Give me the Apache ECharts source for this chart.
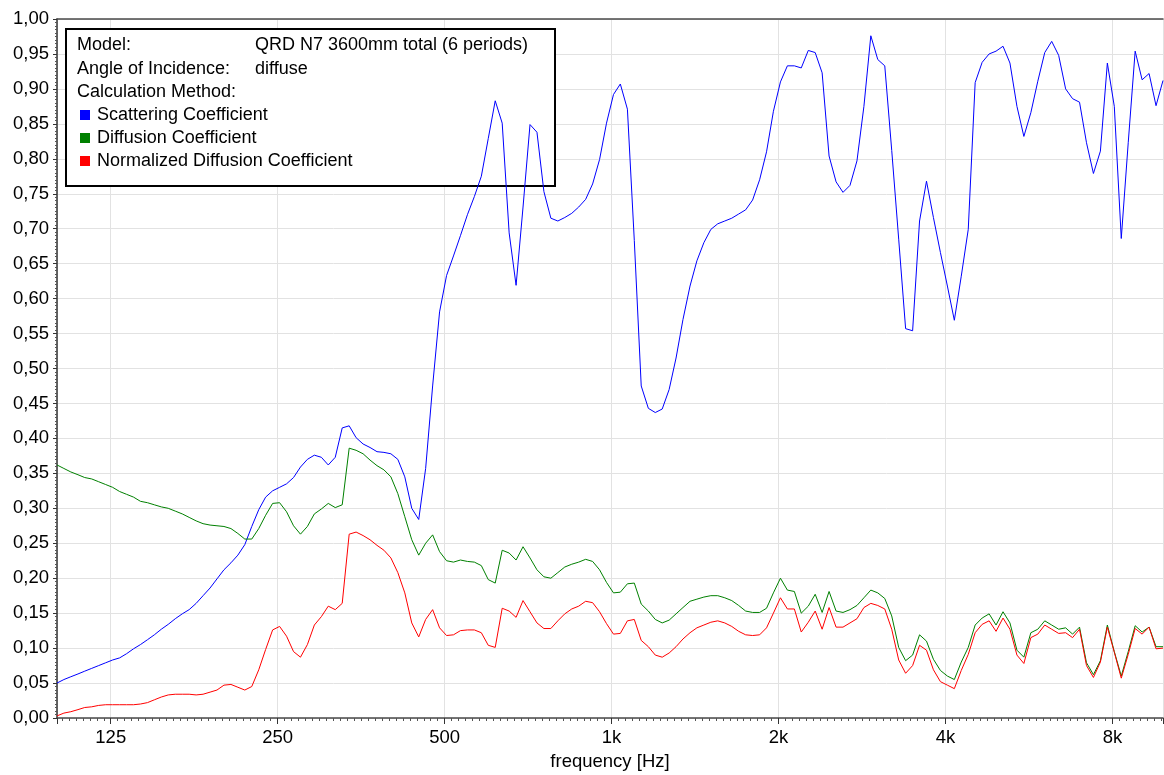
<!DOCTYPE html>
<html>
<head>
<meta charset="utf-8">
<title>QRD N7 scattering and diffusion</title>
<script src="https://cdn.jsdelivr.net/npm/echarts@6/dist/echarts.min.js"></script>
<style>
  html, body { margin: 0; padding: 0; background: #fff; }
  #chart { width: 1164px; height: 775px; }
</style>
</head>
<body>
<div id="chart"></div>
<script>
// 1/24-octave frequency bands, 100 Hz .. 9.87 kHz
const frequencies = [
  100, 102.9, 105.9, 109.1, 112.2, 115.5, 118.9, 122.4, 126.0, 129.7, 133.5, 137.4,
  141.4, 145.6, 149.8, 154.2, 158.7, 163.4, 168.2, 173.1, 178.2, 183.4, 188.8, 194.3,
  200, 205.9, 211.9, 218.1, 224.5, 231.1, 237.8, 244.8, 252.0, 259.4, 267.0, 274.8,
  282.8, 291.1, 299.7, 308.4, 317.5, 326.8, 336.4, 346.2, 356.4, 366.8, 377.6, 388.6,
  400, 411.7, 423.8, 436.2, 449.0, 462.1, 475.7, 489.6, 504.0, 518.7, 533.9, 549.6,
  565.7, 582.3, 599.3, 616.9, 635.0, 653.6, 672.7, 692.4, 712.7, 733.6, 755.1, 777.2,
  800, 823.4, 847.6, 872.4, 898.0, 924.3, 951.4, 979.2, 1008, 1037, 1068, 1099,
  1131, 1165, 1199, 1234, 1270, 1307, 1345, 1385, 1425, 1467, 1510, 1554,
  1600, 1647, 1695, 1745, 1796, 1849, 1903, 1958, 2016, 2075, 2136, 2198,
  2263, 2329, 2397, 2467, 2540, 2614, 2691, 2770, 2851, 2934, 3020, 3109,
  3200, 3294, 3390, 3490, 3592, 3697, 3805, 3917, 4032, 4150, 4271, 4397,
  4525, 4658, 4795, 4935, 5080, 5228, 5382, 5539, 5702, 5869, 6041, 6218,
  6400, 6588, 6781, 6979, 7184, 7394, 7611, 7834, 8063, 8300, 8543, 8793,
  9051, 9316, 9589, 9870
];

const scattering = [
  0.050, 0.055, 0.059, 0.063, 0.067, 0.071, 0.075, 0.079, 0.083, 0.086,
  0.092, 0.099, 0.105, 0.112, 0.119, 0.127, 0.134, 0.142, 0.149, 0.155,
  0.164, 0.175, 0.186, 0.199, 0.212, 0.222, 0.233, 0.248, 0.274, 0.298,
  0.316, 0.325, 0.330, 0.335, 0.344, 0.359, 0.370, 0.376, 0.373, 0.362,
  0.373, 0.415, 0.418, 0.401, 0.392, 0.387, 0.381, 0.380, 0.378, 0.370,
  0.345, 0.300, 0.284, 0.357, 0.475, 0.581, 0.633, 0.661, 0.690, 0.720,
  0.746, 0.775, 0.829, 0.883, 0.851, 0.694, 0.619, 0.731, 0.849, 0.838,
  0.753, 0.715, 0.711, 0.716, 0.722, 0.731, 0.742, 0.764, 0.799, 0.851,
  0.892, 0.907, 0.871, 0.683, 0.475, 0.443, 0.437, 0.442, 0.470, 0.515,
  0.570, 0.618, 0.654, 0.680, 0.699, 0.707, 0.711, 0.715, 0.721, 0.727,
  0.741, 0.770, 0.810, 0.868, 0.910, 0.933, 0.933, 0.930, 0.955, 0.952,
  0.923, 0.804, 0.767, 0.752, 0.762, 0.797, 0.875, 0.976, 0.942, 0.933,
  0.812, 0.685, 0.557, 0.554, 0.711, 0.768, 0.716, 0.666, 0.618, 0.569,
  0.632, 0.699, 0.909, 0.938, 0.950, 0.954, 0.961, 0.937, 0.875, 0.832,
  0.866, 0.911, 0.952, 0.968, 0.948, 0.900, 0.886, 0.881, 0.823, 0.779,
  0.811, 0.937, 0.875, 0.686, 0.823, 0.954, 0.913, 0.922, 0.876, 0.912
];

const diffusion = [
  0.362, 0.357, 0.352, 0.348, 0.344, 0.342, 0.338, 0.334, 0.330, 0.324,
  0.320, 0.316, 0.310, 0.308, 0.305, 0.302, 0.300, 0.296, 0.292, 0.287,
  0.282, 0.278, 0.276, 0.275, 0.274, 0.271, 0.264, 0.256, 0.256, 0.271,
  0.290, 0.307, 0.308, 0.295, 0.275, 0.263, 0.274, 0.292, 0.299, 0.307,
  0.301, 0.305, 0.386, 0.383, 0.378, 0.369, 0.361, 0.355, 0.345, 0.321,
  0.288, 0.255, 0.233, 0.250, 0.262, 0.238, 0.225, 0.223, 0.226, 0.224,
  0.223, 0.218, 0.198, 0.193, 0.240, 0.236, 0.226, 0.245, 0.229, 0.212,
  0.202, 0.200, 0.208, 0.216, 0.220, 0.223, 0.227, 0.224, 0.212, 0.194,
  0.179, 0.180, 0.192, 0.193, 0.163, 0.153, 0.141, 0.136, 0.140, 0.149,
  0.158, 0.167, 0.170, 0.173, 0.175, 0.175, 0.172, 0.168, 0.161, 0.153,
  0.151, 0.151, 0.157, 0.179, 0.200, 0.183, 0.181, 0.150, 0.160, 0.177,
  0.151, 0.181, 0.153, 0.151, 0.155, 0.161, 0.172, 0.183, 0.179, 0.171,
  0.146, 0.101, 0.082, 0.090, 0.119, 0.110, 0.084, 0.068, 0.060, 0.055,
  0.080, 0.101, 0.133, 0.143, 0.149, 0.133, 0.152, 0.136, 0.097, 0.087,
  0.122, 0.127, 0.139, 0.133, 0.127, 0.129, 0.120, 0.130, 0.079, 0.062,
  0.082, 0.133, 0.095, 0.060, 0.095, 0.132, 0.123, 0.130, 0.102, 0.102
];

const normalizedDiffusion = [
  0.003, 0.007, 0.009, 0.012, 0.015, 0.016, 0.018, 0.019, 0.019, 0.019,
  0.019, 0.019, 0.020, 0.022, 0.026, 0.030, 0.033, 0.034, 0.034, 0.034,
  0.033, 0.034, 0.037, 0.040, 0.047, 0.048, 0.044, 0.040, 0.045, 0.069,
  0.098, 0.126, 0.131, 0.117, 0.095, 0.087, 0.105, 0.133, 0.145, 0.160,
  0.155, 0.164, 0.263, 0.266, 0.261, 0.255, 0.247, 0.240, 0.229, 0.208,
  0.179, 0.136, 0.116, 0.141, 0.155, 0.129, 0.118, 0.119, 0.125, 0.126,
  0.126, 0.122, 0.104, 0.101, 0.157, 0.153, 0.144, 0.168, 0.152, 0.136,
  0.128, 0.128, 0.139, 0.149, 0.156, 0.160, 0.167, 0.165, 0.152, 0.135,
  0.120, 0.121, 0.139, 0.141, 0.111, 0.102, 0.090, 0.087, 0.093, 0.102,
  0.113, 0.122, 0.129, 0.133, 0.137, 0.139, 0.136, 0.131, 0.124, 0.119,
  0.118, 0.119, 0.129, 0.150, 0.172, 0.156, 0.156, 0.123, 0.137, 0.153,
  0.127, 0.158, 0.130, 0.130, 0.136, 0.142, 0.158, 0.164, 0.161, 0.156,
  0.127, 0.083, 0.064, 0.075, 0.104, 0.097, 0.069, 0.052, 0.047, 0.042,
  0.068, 0.091, 0.122, 0.134, 0.139, 0.124, 0.143, 0.127, 0.090, 0.078,
  0.115, 0.120, 0.133, 0.127, 0.121, 0.122, 0.115, 0.127, 0.075, 0.058,
  0.080, 0.130, 0.094, 0.057, 0.091, 0.128, 0.120, 0.130, 0.099, 0.100
];

// octave tick labels, starting at 125 Hz
const xTickLabels = ['125', '250', '500', '1k', '2k', '4k', '8k'];
const seriesNames = ['Scattering Coefficient', 'Diffusion Coefficient', 'Normalized Diffusion Coefficient'];
const seriesColors = ['#0000ff', '#008000', '#ff0000'];
const infoLabels = ['Model:', 'Angle of Incidence:', 'Calculation Method:'];
const infoValues = ['QRD N7 3600mm total (6 periods)', 'diffuse', ''];

const REF_FREQ = 125;            // frequency at octave 0 of the axis
const octave = f => Math.log2(f / REF_FREQ);
const FONT = '"Liberation Sans", Arial, sans-serif';
const AXIS_FONT_SIZE = 18.5;
const BOX_FONT_SIZE = 18;

const toPoints = values => frequencies.map((f, i) => [octave(f), values[i]]);
const xMin = octave(frequencies[0]);
const xMax = octave(frequencies[frequencies.length - 1]);

const chart = echarts.init(document.getElementById('chart'), null, { renderer: 'canvas' });

const infoGraphics = [];
infoLabels.forEach((t, i) => {
  infoGraphics.push({
    type: 'text', z: 5, x: 77, y: 45.5 + i * 23.2,
    style: { text: t, fontSize: BOX_FONT_SIZE, fontFamily: FONT, fill: '#000', verticalAlign: 'middle' }
  });
  if (infoValues[i]) {
    infoGraphics.push({
      type: 'text', z: 5, x: 255, y: 45.5 + i * 23.2,
      style: { text: infoValues[i], fontSize: BOX_FONT_SIZE, fontFamily: FONT, fill: '#000', verticalAlign: 'middle' }
    });
  }
});

const option = {
  animation: false,
  backgroundColor: '#fff',
  textStyle: { fontFamily: FONT },
  grid: { left: 57, right: 1, top: 19, bottom: 57, outerBoundsMode: 'none', containLabel: false },
  legend: {
    data: seriesNames,
    orient: 'vertical',
    left: 80, top: 106,
    icon: 'rect',
    itemWidth: 10, itemHeight: 10,
    itemGap: 5,
    padding: 0,
    textStyle: { fontSize: BOX_FONT_SIZE, color: '#000', fontFamily: FONT, lineHeight: 18, padding: [0, 0, 0, 2] },
    selectedMode: false,
    z: 6
  },
  graphic: [
    {
      type: 'rect', z: 1,
      shape: { x: 66, y: 29, width: 489, height: 157 },
      style: { fill: '#fff', stroke: '#000', lineWidth: 2 }
    }
  ].concat(infoGraphics),
  xAxis: [
    {
      type: 'value',
      min: xMin, max: xMax,
      minInterval: 1, maxInterval: 1,
      name: 'frequency [Hz]',
      nameLocation: 'middle',
      nameGap: 34,
      nameTextStyle: { fontSize: AXIS_FONT_SIZE, color: '#000', fontFamily: FONT },
      axisLine: { show: true, onZero: false, lineStyle: { color: '#4a4a4a', width: 1.5 } },
      axisTick: { show: true, length: 6, lineStyle: { color: '#333', width: 1 } },
      minorTick: { show: true, splitNumber: 24, length: 3, lineStyle: { color: '#555', width: 1 } },
      axisLabel: {
        fontSize: AXIS_FONT_SIZE, color: '#000', fontFamily: FONT, margin: 10,
        showMinLabel: false, showMaxLabel: false,
        formatter: v => {
          const i = Math.round(v);
          return Math.abs(v - i) < 1e-6 && xTickLabels[i] ? xTickLabels[i] : '';
        }
      },
      splitLine: { show: true, lineStyle: { color: '#e2e2e2', width: 1 } }
    },
    {
      type: 'value',
      position: 'top',
      min: xMin, max: xMax,
      axisLine: { show: true, onZero: false, lineStyle: { color: '#4a4a4a', width: 1.5 } },
      axisTick: { show: false },
      axisLabel: { show: false },
      splitLine: { show: false }
    }
  ],
  yAxis: {
    type: 'value',
    min: 0, max: 1, interval: 0.05,
    axisLine: { show: true, onZero: false, lineStyle: { color: '#333', width: 1.5 } },
    axisTick: { show: true, length: 4, lineStyle: { color: '#333', width: 1 } },
    minorTick: { show: true, splitNumber: 10, length: 2, lineStyle: { color: '#555', width: 1 } },
    axisLabel: {
      fontSize: AXIS_FONT_SIZE, color: '#000', fontFamily: FONT, margin: 8,
      formatter: v => v.toFixed(2).replace('.', ',')
    },
    splitLine: { show: true, lineStyle: { color: '#e2e2e2', width: 1 } }
  },
  series: [scattering, diffusion, normalizedDiffusion].map((vals, i) => ({
    name: seriesNames[i],
    type: 'line',
    xAxisIndex: 0,
    data: toPoints(vals),
    showSymbol: false,
    symbol: 'none',
    color: seriesColors[i],
    itemStyle: { color: seriesColors[i] },
    lineStyle: { color: seriesColors[i], width: 1 },
    z: 2 + i,
    emphasis: { disabled: true }
  }))
};

chart.setOption(option);
</script>
</body>
</html>
